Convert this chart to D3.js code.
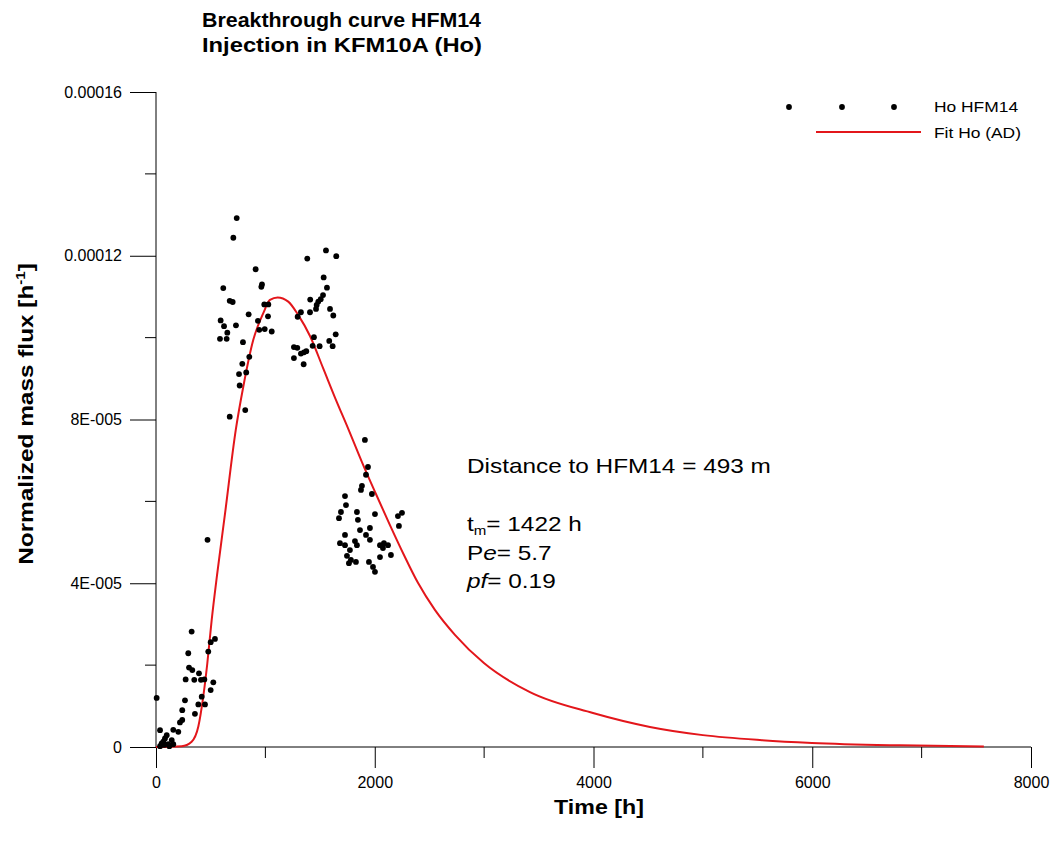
<!DOCTYPE html>
<html>
<head>
<meta charset="utf-8">
<script src="https://cdn.jsdelivr.net/npm/d3@7"></script>
<style>
  body { margin: 0; background: #fff; }
  svg { font-family: Arial, "Liberation Sans", sans-serif; }
</style>
</head>
<body>
<div id="chart"></div>
<script>
// measured points, Ho in HFM14 (time [h], normalized mass flux [1/h])
var obsTime = [6, 37, 98, 82, 67, 52, 73, 112, 144, 158, 37, 122, 158, 204, 219, 240, 356, 240, 387, 448,
  265, 418, 500, 524, 350, 411, 442, 271, 393, 332, 302, 295, 478, 500, 539, 326, 471,
  738, 707, 911, 615, 969, 963, 674, 701, 990, 1027, 847, 1024, 591, 622, 731, 932, 944, 994,
  1058, 652, 585, 646, 795, 853, 789, 825, 759, 765, 816, 674,
  1383, 1554, 1648, 1533, 1563, 1527, 1506, 1484, 1469, 1463, 1410, 1408, 1325, 1295, 1591, 1621,
  1643, 1584, 1615, 1444, 1432, 1496, 1261, 1292, 1374, 1353, 1325, 1261, 1350,
  1910, 1938, 1920, 1883, 1874, 1728, 1974, 1737, 1691, 1673, 1837, 1846, 1956, 2212, 2249, 2221,
  2002, 1682, 1728, 1819, 1837, 1920, 1956, 2048, 2075, 1773, 1746, 1782, 1828, 1764, 1947, 1984,
  2002, 2048, 2084, 2121, 2148, 1728, 1865];
var obsFlux = [1.20e-5, 0.41e-5, 0.29e-5, 0.21e-5, 0.13e-5, 0.09e-5, 0.05e-5, 0.07e-5, 0.17e-5, 0.07e-5, 0.02e-5, 0.02e-5, 0.42e-5, 0.37e-5, 0.60e-5, 0.66e-5, 0.81e-5, 0.90e-5, 1.04e-5, 1.04e-5,
  1.14e-5, 1.23e-5, 1.39e-5, 1.58e-5, 1.64e-5, 1.64e-5, 1.65e-5, 1.65e-5, 1.80e-5, 1.88e-5, 1.94e-5, 2.29e-5, 2.33e-5, 2.56e-5, 2.64e-5, 2.82e-5, 5.06e-5,
  12.92e-5, 12.44e-5, 11.67e-5, 11.21e-5, 11.30e-5, 11.24e-5, 10.90e-5, 10.87e-5, 10.81e-5, 10.81e-5, 10.57e-5, 10.52e-5, 10.42e-5, 10.28e-5, 10.30e-5, 10.41e-5, 10.19e-5, 10.21e-5,
  10.15e-5, 10.12e-5, 9.97e-5, 9.97e-5, 9.89e-5, 9.53e-5, 9.36e-5, 9.15e-5, 9.11e-5, 8.83e-5, 8.23e-5, 8.07e-5,
  11.93e-5, 12.13e-5, 11.99e-5, 11.47e-5, 11.22e-5, 11.04e-5, 10.94e-5, 10.88e-5, 10.80e-5, 10.70e-5, 10.93e-5, 10.62e-5, 10.62e-5, 10.51e-5, 10.70e-5, 10.54e-5,
  10.08e-5, 9.92e-5, 9.79e-5, 10.01e-5, 9.80e-5, 9.79e-5, 9.77e-5, 9.75e-5, 9.67e-5, 9.64e-5, 9.61e-5, 9.50e-5, 9.35e-5,
  7.50e-5, 6.84e-5, 6.65e-5, 6.38e-5, 6.28e-5, 6.13e-5, 6.18e-5, 5.91e-5, 5.74e-5, 5.59e-5, 5.74e-5, 5.55e-5, 5.35e-5, 5.64e-5, 5.72e-5, 5.40e-5,
  5.69e-5, 4.98e-5, 4.93e-5, 5.03e-5, 4.93e-5, 5.18e-5, 5.06e-5, 4.93e-5, 4.86e-5, 4.81e-5, 4.67e-5, 4.57e-5, 4.52e-5, 4.49e-5, 4.52e-5, 4.40e-5,
  4.28e-5, 4.64e-5, 4.98e-5, 4.93e-5, 4.69e-5, 5.18e-5, 5.30e-5];

// fitted AD curve
var fitTime = [0, 235, 326, 387, 432, 469, 509, 558, 631, 729, 798, 889, 981, 1042, 1112, 1209, 1301, 1408, 1527,
  1645, 1755, 1883, 2011, 2139, 2267, 2395, 2550, 2733, 2998, 3419, 3995, 4516, 5000, 5521, 5996, 6801, 7569];
var fitFlux = [0, 0.02e-5, 0.13e-5, 0.50e-5, 1.23e-5, 2.04e-5, 3.10e-5, 4.20e-5, 5.70e-5, 7.74e-5, 8.80e-5, 9.94e-5, 10.60e-5, 10.92e-5, 10.98e-5, 10.88e-5, 10.55e-5, 10.04e-5, 9.26e-5,
  8.48e-5, 7.79e-5, 6.96e-5, 6.18e-5, 5.42e-5, 4.69e-5, 4.01e-5, 3.35e-5, 2.74e-5, 2.05e-5, 1.34e-5, 0.83e-5, 0.49e-5, 0.29e-5, 0.17e-5, 0.10e-5, 0.04e-5, 0.01e-5];

var xTicks = [0, 2000, 4000, 6000, 8000];
var xMinor = [1000, 3000, 5000, 7000];
var yTicks = [0, 4e-5, 8e-5, 12e-5, 16e-5];
var yTickLabels = ["0", "4E-005", "8E-005", "0.00012", "0.00016"];
var yMinor = [2e-5, 6e-5, 10e-5, 14e-5];

var width = 1055, height = 841;
var svg = d3.select("#chart").append("svg")
    .attr("width", width)
    .attr("height", height);

var x = d3.scaleLinear().domain([0, 8000]).range([156, 1031]);
var y = d3.scaleLinear().domain([0, 16e-5]).range([747, 92]);

// the original font runs a bit wider than Arial
var stretch = 1.16;
function wide(x0) {
    return "translate(" + x0 + ",0) scale(" + stretch + ",1) translate(" + (-x0) + ",0)";
}

// axes
var xAxis = d3.axisBottom(x).tickValues(xTicks).tickSize(21).tickPadding(9).tickFormat(d3.format("d"));
var gx = svg.append("g").attr("transform", "translate(0," + y(0) + ")").call(xAxis);
gx.select(".domain").remove();
gx.append("g").selectAll("line").data(xMinor).enter().append("line")
    .attr("x1", d => x(d)).attr("x2", d => x(d))
    .attr("y1", 0).attr("y2", 11)
    .attr("stroke", "#000");

var yAxis = d3.axisLeft(y).tickValues(yTicks).tickSize(26).tickPadding(8)
    .tickFormat((d, i) => yTickLabels[i]);
var gy = svg.append("g").attr("transform", "translate(" + x(0) + ",0)").call(yAxis);
gy.select(".domain").remove();
gy.append("g").selectAll("line").data(yMinor).enter().append("line")
    .attr("x1", -11).attr("x2", 0)
    .attr("y1", d => y(d)).attr("y2", d => y(d))
    .attr("stroke", "#000");

svg.selectAll(".tick text").attr("font-size", 16).attr("fill", "#000")
    .attr("font-family", "Arial, 'Liberation Sans', sans-serif");
svg.selectAll(".tick line").attr("stroke", "#000");

// axis lines
svg.append("line").attr("x1", x(0)).attr("x2", x(8000)).attr("y1", y(0)).attr("y2", y(0)).attr("stroke", "#000");
svg.append("line").attr("x1", x(0)).attr("x2", x(0)).attr("y1", y(16e-5)).attr("y2", y(0)).attr("stroke", "#000");

// fit curve
var line = d3.line().x(d => x(d[0])).y(d => y(d[1])).curve(d3.curveMonotoneX);
svg.append("path")
    .datum(d3.zip(fitTime, fitFlux))
    .attr("d", line)
    .attr("fill", "none")
    .attr("stroke", "#e3161b")
    .attr("stroke-width", 2);

// measured points
svg.append("g").selectAll("circle")
    .data(d3.zip(obsTime, obsFlux))
    .enter().append("circle")
    .attr("cx", d => x(d[0]))
    .attr("cy", d => y(d[1]))
    .attr("r", 2.9)
    .attr("fill", "#000");

// titles
svg.append("text").attr("x", 202).attr("y", 27)
    .attr("font-size", 20).attr("font-weight", "bold")
    .attr("textLength", 279).attr("lengthAdjust", "spacingAndGlyphs")
    .text("Breakthrough curve HFM14");
svg.append("text").attr("x", 202).attr("y", 52)
    .attr("font-size", 20).attr("font-weight", "bold")
    .attr("textLength", 280).attr("lengthAdjust", "spacingAndGlyphs")
    .text("Injection in KFM10A (Ho)");

svg.append("text").attr("x", 599).attr("y", 814).attr("text-anchor", "middle")
    .attr("transform", wide(599))
    .attr("font-size", 20).attr("font-weight", "bold").text("Time [h]");

var yt = svg.append("text")
    .attr("transform", "translate(33,414) rotate(-90) scale(" + stretch + ",1)")
    .attr("text-anchor", "middle")
    .attr("font-size", 21).attr("font-weight", "bold");
yt.append("tspan").text("Normalized mass flux [h");
yt.append("tspan").attr("font-size", 13).attr("dy", -8).text("-1");
yt.append("tspan").attr("dy", 8).text("]");

// legend
var legDots = [789, 842, 894];
svg.append("g").selectAll("circle").data(legDots).enter().append("circle")
    .attr("cx", d => d).attr("cy", 107).attr("r", 2.9).attr("fill", "#000");
svg.append("text").attr("x", 934).attr("y", 112).attr("font-size", 15)
    .attr("transform", wide(934)).text("Ho HFM14");
svg.append("line").attr("x1", 816).attr("x2", 921).attr("y1", 132).attr("y2", 132)
    .attr("stroke", "#e3161b").attr("stroke-width", 2);
svg.append("text").attr("x", 934).attr("y", 138).attr("font-size", 15)
    .attr("transform", wide(934)).text("Fit Ho (AD)");

// annotation
var ann = svg.append("g").attr("font-size", 21).attr("transform", wide(467));
ann.append("text").attr("x", 467).attr("y", 473).text("Distance to HFM14 = 493 m");
var t1 = ann.append("text").attr("x", 467).attr("y", 531);
t1.append("tspan").text("t");
t1.append("tspan").attr("font-size", 13).attr("dy", 4).text("m");
t1.append("tspan").attr("dy", -4).text("= 1422 h");
var t2 = ann.append("text").attr("x", 467).attr("y", 560);
t2.append("tspan").text("P");
t2.append("tspan").attr("font-style", "italic").text("e");
t2.append("tspan").text("= 5.7");
var t3 = ann.append("text").attr("x", 467).attr("y", 588);
t3.append("tspan").attr("font-style", "italic").text("pf");
t3.append("tspan").text("= 0.19");
</script>
</body>
</html>
